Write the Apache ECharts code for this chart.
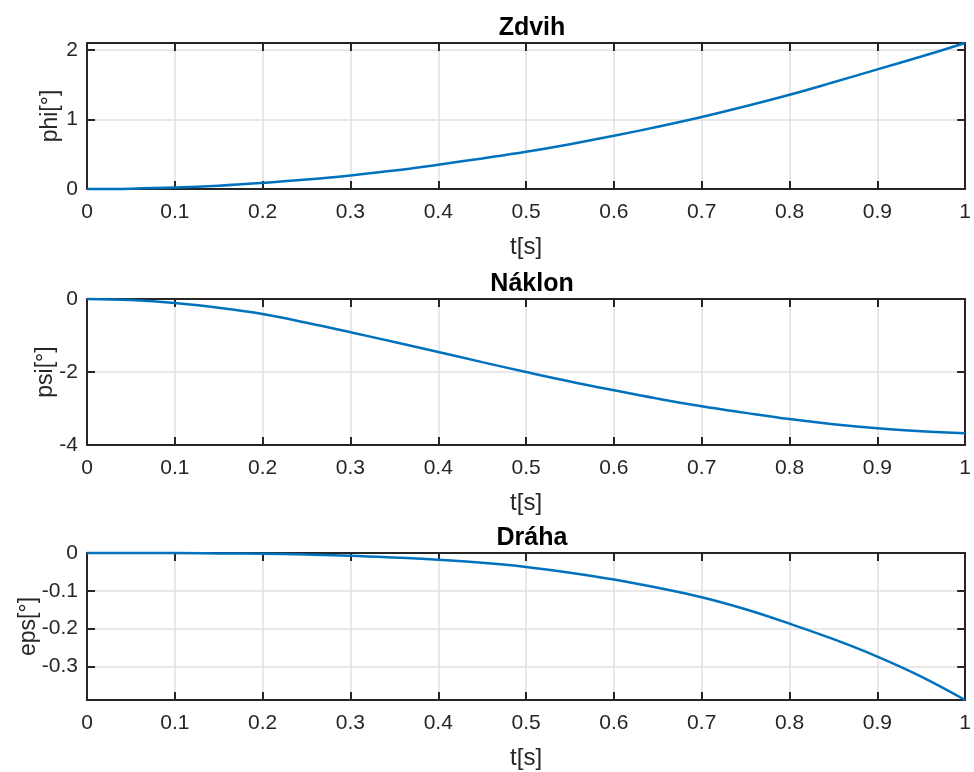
<!DOCTYPE html>
<html>
<head>
<meta charset="utf-8">
<script src="https://cdn.jsdelivr.net/npm/echarts@6/dist/echarts.min.js"></script>
<style>
html,body{margin:0;padding:0;background:#fff;}
#c{width:974px;height:772px;}
</style>
</head>
<body>
<div id="c"></div>
<script>
// Time samples [s]
var t = [0,0.05,0.1,0.15,0.2,0.25,0.3,0.35,0.4,0.45,0.5,0.55,0.6,0.65,0.7,0.75,0.8,0.85,0.9,0.95,1.0];
// Zdvih: phi [deg]
var phi = [0,0.005,0.02,0.047,0.087,0.135,0.195,0.265,0.35,0.44,0.535,0.645,0.765,0.895,1.035,1.19,1.355,1.535,1.72,1.905,2.1];
// Náklon: psi [deg]
var psi = [0,-0.03,-0.11,-0.24,-0.41,-0.65,-0.91,-1.18,-1.45,-1.73,-2.0,-2.26,-2.5,-2.73,-2.94,-3.12,-3.29,-3.43,-3.54,-3.62,-3.68];
// Dráha: eps [deg]
var eps = [0,0,0,-0.001,-0.002,-0.004,-0.007,-0.012,-0.018,-0.026,-0.037,-0.052,-0.070,-0.092,-0.117,-0.149,-0.187,-0.228,-0.274,-0.327,-0.389];

var titles = ['Zdvih','Náklon','Dráha'];
var yNames = ['phi[°]','psi[°]','eps[°]'];
var xName = 't[s]';
var xTicks = [0,0.1,0.2,0.3,0.4,0.5,0.6,0.7,0.8,0.9,1];
var yRanges = [[0,2.1],[-4,0],[-0.389,0]];
var yTicks = [[0,1,2],[-4,-2,0],[-0.3,-0.2,-0.1,0]];
var series = [phi, psi, eps];

var grids = [{top:43,height:146},{top:299,height:146},{top:553,height:147}];
var yNameGaps = [25,30,47];
var axisColor = '#262626';
var gridColor = '#e1e1e1';
var font = 'Liberation Sans, Arial, Helvetica, sans-serif';

function fmt(v){ return String(Math.round(v*1000)/1000); }

var option = {
  backgroundColor:'#fff',
  animation:false,
  title:[], grid:[], xAxis:[], yAxis:[], series:[]
};

for (var k=0;k<3;k++){
  (function(k){
  option.title.push({
    text:titles[k], left:527, top:grids[k].top-32, textAlign:'center',
    textStyle:{fontFamily:font,fontSize:25,fontWeight:'bold',color:'#000'}
  });
  option.grid.push({left:87,right:7,top:grids[k].top,height:grids[k].height,containLabel:false});
  var ticksX = {show:true,inside:true,length:8,customValues:xTicks,lineStyle:{color:axisColor,width:2}};
  option.xAxis.push({
    type:'value', gridIndex:k, min:0, max:1, position:'bottom',
    name:xName, nameLocation:'middle', nameGap:46, nameMoveOverlap:false,
    nameTextStyle:{fontFamily:font,fontSize:24,color:axisColor},
    axisLine:{show:true,onZero:false,lineStyle:{color:axisColor,width:2}},
    axisTick:ticksX,
    axisLabel:{fontFamily:font,fontSize:21,color:axisColor,margin:13,customValues:xTicks,
      formatter:function(v){return fmt(v);}},
    splitLine:{show:true,lineStyle:{color:gridColor,width:1.5}}
  });
  option.xAxis.push({
    type:'value', gridIndex:k, min:0, max:1, position:'top',
    axisLine:{show:true,onZero:false,lineStyle:{color:axisColor,width:2}},
    axisTick:ticksX, axisLabel:{show:false}, splitLine:{show:false}
  });
  var ticksY = {show:true,inside:true,length:8,customValues:yTicks[k],lineStyle:{color:axisColor,width:2}};
  option.yAxis.push({
    type:'value', gridIndex:k, min:yRanges[k][0], max:yRanges[k][1], position:'left',
    name:yNames[k], nameLocation:'middle', nameGap:yNameGaps[k], nameRotate:90, nameMoveOverlap:false,
    nameTextStyle:{fontFamily:font,fontSize:23,color:axisColor},
    axisLine:{show:true,onZero:false,lineStyle:{color:axisColor,width:2}},
    axisTick:ticksY,
    axisLabel:{fontFamily:font,fontSize:21,color:axisColor,margin:9,customValues:yTicks[k],
      formatter:function(v){return fmt(v);}},
    splitLine:{show:true,lineStyle:{color:gridColor,width:1.5}}
  });
  option.yAxis.push({
    type:'value', gridIndex:k, min:yRanges[k][0], max:yRanges[k][1], position:'right',
    axisLine:{show:true,onZero:false,lineStyle:{color:axisColor,width:2}},
    axisTick:ticksY, axisLabel:{show:false}, splitLine:{show:false}
  });
  var d = [];
  for (var i=0;i<t.length;i++) d.push([t[i], series[k][i]]);
  option.series.push({
    type:'line', xAxisIndex:2*k, yAxisIndex:2*k, data:d, smooth:0.4,
    showSymbol:false, symbol:'none', clip:false, z:5,
    lineStyle:{color:'#0072BD',width:2.5}
  });
  })(k);
}

var chart = echarts.init(document.getElementById('c'),null,{renderer:'canvas'});
chart.setOption(option);
</script>
</body>
</html>
